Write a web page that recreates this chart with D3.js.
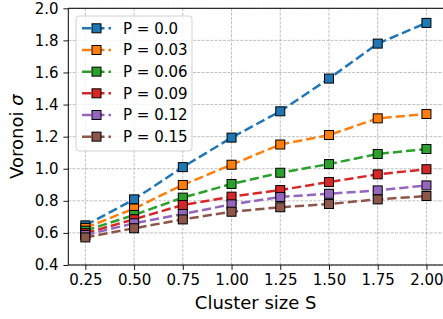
<!DOCTYPE html>
<html><head><meta charset="utf-8">
<script src="https://cdn.jsdelivr.net/npm/d3@7"></script>
<style>body{margin:0;background:#fff}svg{display:block;font-family:"DejaVu Sans",sans-serif}</style>
</head><body><svg id="c" width="443" height="319"></svg>
<script>
const sizes = [0.25,0.5,0.75,1.0,1.25,1.5,1.75,2.0];
const pLabels = ["P = 0.0","P = 0.03","P = 0.06","P = 0.09","P = 0.12","P = 0.15"];
const colors = ["#1f77b4","#ff7f0e","#2ca02c","#d62728","#9467bd","#8c564b"];
const p000 = [0.647,0.809,1.010,1.194,1.358,1.562,1.780,1.909];
const p003 = [0.631,0.752,0.899,1.025,1.151,1.210,1.314,1.341];
const p006 = [0.614,0.712,0.820,0.905,0.975,1.029,1.092,1.123];
const p009 = [0.598,0.685,0.774,0.826,0.867,0.917,0.965,0.997];
const p012 = [0.587,0.660,0.718,0.778,0.824,0.844,0.865,0.896];
const p015 = [0.572,0.629,0.684,0.732,0.760,0.780,0.809,0.830];
const series = [p000,p003,p006,p009,p012,p015];
const xTicks = [0.25,0.5,0.75,1.0,1.25,1.5,1.75,2.0];
const yTicks = [0.4,0.6,0.8,1.0,1.2,1.4,1.6,1.8,2.0];

const L=68.3, R=443.5, T=8.3, B=265;
const svg = d3.select("#c");
const x = d3.scaleLinear().domain([0.1625,2.0875]).range([L,R]);
const y = d3.scaleLinear().domain([0.4,2.0]).range([B,T]);

svg.append("defs").append("clipPath").attr("id","clip")
  .append("rect").attr("x",L).attr("y",T).attr("width",R-L).attr("height",B-T);

// grid
const g = svg.append("g");
g.selectAll(".gx").data(xTicks).enter().append("line")
  .attr("x1",d=>x(d)).attr("x2",d=>x(d)).attr("y1",T).attr("y2",B)
  .attr("stroke","#b0b0b0").attr("stroke-width",0.8).attr("stroke-dasharray","3,1.3");
g.selectAll(".gy").data(yTicks).enter().append("line")
  .attr("x1",L).attr("x2",R).attr("y1",d=>y(d)).attr("y2",d=>y(d))
  .attr("stroke","#b0b0b0").attr("stroke-width",0.8).attr("stroke-dasharray","3,1.3");

// series
const plot = svg.append("g").attr("clip-path","url(#clip)");
const line = d3.line().x((d,i)=>x(sizes[i])).y(d=>y(d));
const ms = 9;
series.forEach((s,k)=>{
  const gg = plot.append("g");
  gg.append("path").attr("d",line(s)).attr("fill","none")
    .attr("stroke",colors[k]).attr("stroke-width",2.5).attr("stroke-dasharray","9.25,4");
  gg.selectAll("rect").data(s).enter().append("rect")
    .attr("x",(d,i)=>x(sizes[i])-ms/2).attr("y",d=>y(d)-ms/2)
    .attr("width",ms).attr("height",ms)
    .attr("fill",colors[k]).attr("stroke","#000").attr("stroke-width",1);
});

// axes
const xa = svg.append("g").attr("transform",`translate(0,${B})`)
  .call(d3.axisBottom(x).tickValues(xTicks).tickFormat(d3.format(".2f")).tickSizeOuter(0).tickSize(4.9).tickPadding(4.8));
const ya = svg.append("g").attr("transform",`translate(${L},0)`)
  .call(d3.axisLeft(y).tickValues(yTicks).tickFormat(d3.format(".1f")).tickSizeOuter(0).tickSize(4.9).tickPadding(4.8));
[xa,ya].forEach(a=>{
  a.selectAll("text").attr("font-family","DejaVu Sans").attr("font-size","15px").attr("fill","#000");
  a.selectAll("line").attr("stroke","#000").attr("stroke-width",0.9);
  a.select(".domain").remove();
});
svg.append("line").attr("x1",L).attr("x2",R).attr("y1",B).attr("y2",B).attr("stroke","#000").attr("stroke-width",1);
svg.append("line").attr("x1",L).attr("x2",R).attr("y1",T).attr("y2",T).attr("stroke","#000").attr("stroke-width",1);
svg.append("line").attr("x1",L).attr("x2",L).attr("y1",T).attr("y2",B).attr("stroke","#000").attr("stroke-width",1);

svg.append("text").attr("x",(L+426+17)/2).attr("y",309).attr("text-anchor","middle")
  .attr("font-size","18px").text("Cluster size S");
const yl = svg.append("text").attr("transform",`translate(23,${(T+B)/2}) rotate(-90)`)
  .attr("text-anchor","middle").attr("font-size","18px");
yl.append("tspan").text("Voronoi ");
yl.append("tspan").attr("font-style","italic").text("σ");

// legend
const lg = svg.append("g");
lg.append("rect").attr("x",76).attr("y",16).attr("width",116).attr("height",135)
  .attr("rx",3).attr("fill","#fff").attr("fill-opacity",0.8).attr("stroke","#cccccc").attr("stroke-width",0.9);
pLabels.forEach((lab,k)=>{
  const cy = 28.3 + k*21.67;
  lg.append("line").attr("x1",82).attr("x2",111).attr("y1",cy).attr("y2",cy)
    .attr("stroke",colors[k]).attr("stroke-width",2.5).attr("stroke-dasharray","9.25,4");
  lg.append("rect").attr("x",96.5-ms/2).attr("y",cy-ms/2).attr("width",ms).attr("height",ms)
    .attr("fill",colors[k]).attr("stroke","#000").attr("stroke-width",1);
  lg.append("text").attr("x",123).attr("y",cy).attr("dy","0.36em").attr("font-size","15px").text(lab);
});
</script></body></html>
